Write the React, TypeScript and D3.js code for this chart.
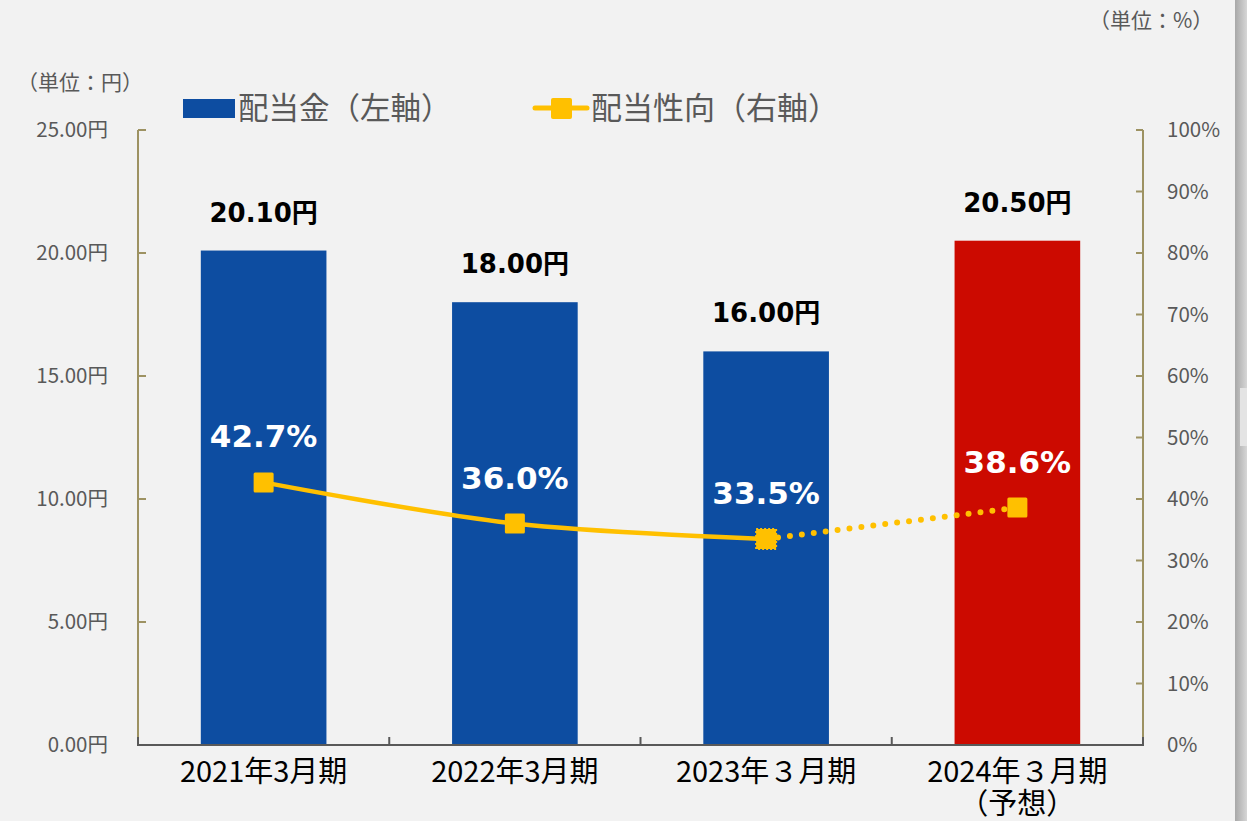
import React from "react";
import * as d3 from "d3";

const categories: string[][] = [["2021年3月期"], ["2022年3月期"], ["2023年３月期"], ["2024年３月期", "（予想）"]];
const dividends: number[] = [20.1, 18.0, 16.0, 20.5];
const dividendLabels: string[] = ["20.10円", "18.00円", "16.00円", "20.50円"];
const payoutRatio: number[] = [42.7, 36.0, 33.5, 38.6];
const payoutLabels: string[] = ["42.7%", "36.0%", "33.5%", "38.6%"];
const forecast: boolean[] = [false, false, false, true];
const leftTicks: number[] = [0, 5, 10, 15, 20, 25];
const rightTicks: number[] = [0, 10, 20, 30, 40, 50, 60, 70, 80, 90, 100];

const W = 1247, H = 821;
const M = { left: 138, right: 1143, top: 130, bottom: 745 };
const BLUE = "#0d4da1", RED = "#cc0a00", YEL = "#ffc000";
const GRAY = "#595959", OLIVE = "#9d9262";
const JP = "'Noto Sans CJK JP', 'Noto Sans', sans-serif";
const NUM = "'DejaVu Sans', 'Noto Sans CJK JP', sans-serif";

export default function App() {
  const x = d3.scaleBand<number>().domain(d3.range(categories.length)).range([M.left, M.right]).paddingInner(0.5).paddingOuter(0.25);
  const band = d3.scaleBand<number>().domain(d3.range(categories.length)).range([M.left, M.right]);
  const yL = d3.scaleLinear().domain([0, 25]).range([M.bottom, M.top]);
  const yR = d3.scaleLinear().domain([0, 100]).range([M.bottom, M.top]);
  const cx = (i: number) => (x(i) as number) + x.bandwidth() / 2;
  const pts: [number, number][] = payoutRatio.map((v, i) => [cx(i), yR(v)]);
  const solidIdx = payoutRatio.map((_, i) => i).filter((i) => !forecast[i]);
  const lastActual = solidIdx[solidIdx.length - 1];
  const lineGen = d3.line<[number, number]>().curve(d3.curveCatmullRom.alpha(0.5));
  const solidPath = lineGen(solidIdx.map((i) => pts[i])) || "";
  const dotPath = lineGen(pts.slice(lastActual)) || "";
  const ms = 20;

  return (
    <svg width={W} height={H} style={{ position: "absolute", left: 0, top: 0, display: "block" }}>
      <defs>
        <linearGradient id="shadow" x1="0" x2="1" y1="0" y2="0">
          <stop offset="0" stopColor="#a8a8a8" />
          <stop offset="1" stopColor="#d6d6d6" />
        </linearGradient>
      </defs>
      <rect x={0} y={0} width={W} height={H} fill="#f2f2f2" />
      <rect x={1235} y={0} width={12} height={H} fill="url(#shadow)" />
      <rect x={1240} y={388} width={7} height={58} fill="#e4e4e4" />

      {/* unit labels */}
      <text x={17} y={90} fontFamily={JP} fontSize={21} fill={GRAY}>（単位：円）</text>
      <text x={1089} y={28} fontFamily={JP} fontSize={21} fill={GRAY}>（単位：%）</text>

      {/* legend */}
      <rect x={183} y={99} width={52} height={19} fill={BLUE} />
      <text x={238} y={119} fontFamily={JP} fontSize={30.5} fill={GRAY}>配当金（左軸）</text>
      <line x1={535} x2={587} y1={108} y2={108} stroke={YEL} strokeWidth={5} strokeLinecap="round" />
      <rect x={551} y={98} width={21} height={21} rx={2} fill={YEL} />
      <text x={591} y={119} fontFamily={JP} fontSize={31} fill={GRAY}>配当性向（右軸）</text>

      {/* bars */}
      {dividends.map((v, i) => (
        <rect key={i} x={x(i)} y={yL(v)} width={x.bandwidth()} height={yL(0) - yL(v)} fill={forecast[i] ? RED : BLUE} />
      ))}

      {/* left axis */}
      <line x1={M.left} x2={M.left} y1={M.top} y2={M.bottom} stroke={OLIVE} strokeWidth={2} />
      {leftTicks.map((t) => (
        <g key={t}>
          <line x1={M.left} x2={M.left + 8} y1={yL(t)} y2={yL(t)} stroke={OLIVE} strokeWidth={2} />
          <text x={108} y={yL(t) + 7} textAnchor="end" fontFamily={JP} fontSize={20.5} fill={GRAY}>{t.toFixed(2) + "円"}</text>
        </g>
      ))}

      {/* right axis */}
      <line x1={M.right} x2={M.right} y1={M.top} y2={M.bottom} stroke={OLIVE} strokeWidth={2} />
      {rightTicks.map((t) => (
        <g key={t}>
          <line x1={M.right - 7} x2={M.right} y1={yR(t)} y2={yR(t)} stroke={OLIVE} strokeWidth={2} />
          <text x={1167} y={yR(t) + 7} fontFamily={JP} fontSize={20.5} fill={GRAY}>{t + "%"}</text>
        </g>
      ))}

      {/* bottom axis */}
      <line x1={M.left - 1} x2={M.right + 1} y1={M.bottom} y2={M.bottom} stroke={GRAY} strokeWidth={2} />
      {d3.range(categories.length + 1).map((i) => {
        const bx = i < categories.length ? (band(i) as number) : M.right;
        return <line key={i} x1={bx} x2={bx} y1={M.bottom} y2={M.bottom - 8} stroke={GRAY} strokeWidth={2} />;
      })}
      {categories.map((lines, i) => (
        <text key={i} x={cx(i)} textAnchor="middle" fontFamily={JP} fontSize={29} fill="#000">
          {lines.map((l, j) => (
            <tspan key={j} x={cx(i)} y={782 + j * 32}>{l}</tspan>
          ))}
        </text>
      ))}

      {/* bar value labels */}
      {dividends.map((v, i) => (
        <text key={i} x={cx(i)} y={yL(v) - 29} textAnchor="middle" fontFamily={NUM} fontWeight="bold" fontSize={26} fill="#000">{dividendLabels[i]}</text>
      ))}

      {/* payout line */}
      <path d={solidPath} fill="none" stroke={YEL} strokeWidth={4.5} strokeLinecap="round" />
      <path d={dotPath} fill="none" stroke={YEL} strokeWidth={6} strokeDasharray="0 12" strokeLinecap="round" />
      {pts.map(([px, py], i) => (
        <g key={i}>
          <rect x={px - ms / 2} y={py - ms / 2} width={ms} height={ms} rx={1.5} fill={YEL} />
          {i === lastActual && (
            <rect x={px - ms / 2} y={py - ms / 2} width={ms} height={ms} fill="none" stroke={YEL} strokeWidth={2} strokeDasharray="2 2" />
          )}
        </g>
      ))}

      {/* payout labels */}
      {payoutRatio.map((v, i) => (
        <text key={i} x={cx(i)} y={yR(v) - 35} textAnchor="middle" fontFamily={NUM} fontWeight="bold" fontSize={31} fill="#fff">{payoutLabels[i]}</text>
      ))}
    </svg>
  );
}
